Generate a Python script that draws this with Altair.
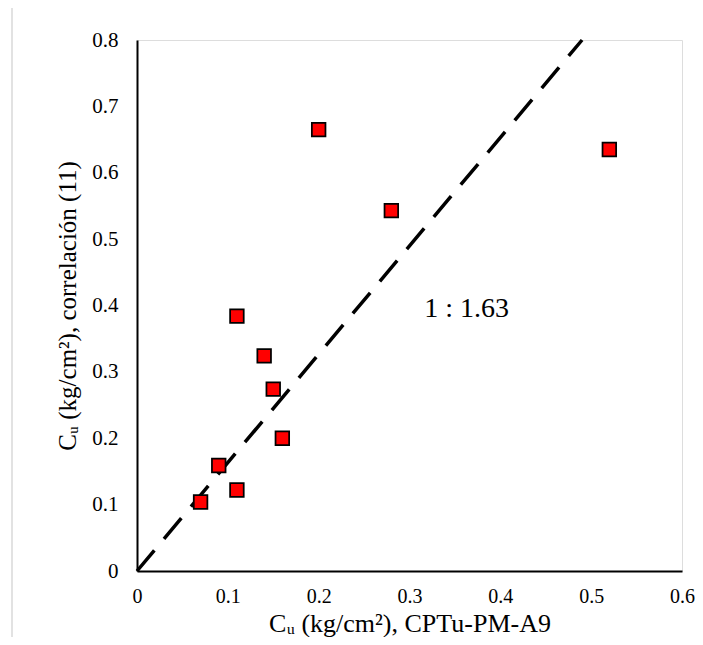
import altair as alt
import pandas as pd

cu_cptu = [0.07, 0.09, 0.11, 0.11, 0.14, 0.15, 0.16, 0.20, 0.28, 0.52]
cu_corr = [0.104, 0.159, 0.122, 0.384, 0.324, 0.274, 0.200, 0.665, 0.543, 0.635]

# 1 : 1.63 reference line end points
line_x = [0.0, 0.49]
line_y = [0.0, 0.8]

x_ticks = [0, 0.1, 0.2, 0.3, 0.4, 0.5, 0.6]
y_ticks = [0, 0.1, 0.2, 0.3, 0.4, 0.5, 0.6, 0.7, 0.8]

label_text = ["1 : 1.63"]
label_x = [0.363]
label_y = [0.383]

FONT = "Liberation Serif"

pts = pd.DataFrame({"x": cu_cptu, "y": cu_corr})
ln = pd.DataFrame({"x": line_x, "y": line_y})
lab = pd.DataFrame({"x": label_x, "y": label_y, "t": label_text})

xscale = alt.Scale(domain=[0, 0.6], nice=False, zero=True)
yscale = alt.Scale(domain=[0, 0.8], nice=False, zero=True)

xaxis = alt.Axis(values=x_ticks, title="Cᵤ (kg/cm²), CPTu-PM-A9", grid=False,
                 ticks=False, tickSize=0, labelPadding=15, labelFontSize=20,
                 titleFontSize=26, titlePadding=4, domainColor="black",
                 domainWidth=2, labelColor="black", titleColor="black",
                 titleFontWeight="normal", labelFont=FONT, titleFont=FONT,
                 format="~g", labelFlush=False)
yaxis = alt.Axis(values=y_ticks, title="Cᵤ (kg/cm²), correlación (11)", grid=False,
                 ticks=False, tickSize=0, labelPadding=19, labelFontSize=21,
                 titleFontSize=25, titlePadding=11, domainColor="black",
                 domainWidth=2, labelColor="black", titleColor="black",
                 titleFontWeight="normal", labelFont=FONT, titleFont=FONT,
                 format="~g", labelFlush=False)

line = alt.Chart(ln).mark_line(color="black", strokeWidth=3.5,
                               strokeDash=[27, 15]).encode(
    x=alt.X("x:Q", scale=xscale, axis=xaxis),
    y=alt.Y("y:Q", scale=yscale, axis=yaxis),
)

points = alt.Chart(pts).mark_point(shape="square", filled=True, size=185,
                                   fill="#FF0000", stroke="black",
                                   strokeWidth=1.75, opacity=1).encode(
    x=alt.X("x:Q", scale=xscale),
    y=alt.Y("y:Q", scale=yscale),
)

text = alt.Chart(lab).mark_text(font=FONT, fontSize=28, color="black",
                                align="center", baseline="alphabetic").encode(
    x=alt.X("x:Q", scale=xscale),
    y=alt.Y("y:Q", scale=yscale),
    text="t:N",
)

frame_df = pd.DataFrame({"a": [0]})
frame_left = alt.Chart(frame_df).mark_rule(color="#d9d9d9", strokeWidth=1.5).encode(
    x=alt.value(-125), y=alt.value(-33), y2=alt.value(700))
frame_top = alt.Chart(frame_df).mark_rule(color="#d9d9d9", strokeWidth=1.5).encode(
    x=alt.value(-125), x2=alt.value(700), y=alt.value(-33))

chart = alt.layer(frame_left, frame_top, line, points, text).properties(
    width=545, height=531,
    autosize=alt.AutoSizeParams(type="none"),
    padding={"left": 129, "top": 32, "right": 13, "bottom": 66},
).configure_view(stroke=None).configure(background="white")

chart.save("out.html", embed_options={"renderer": "svg", "actions": False})
